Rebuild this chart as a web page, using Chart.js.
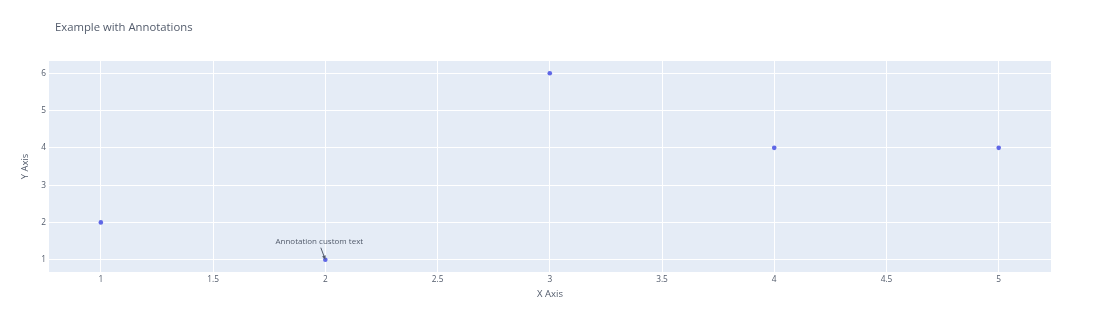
<!DOCTYPE html>
<html>
<head>
<meta charset="utf-8">
<script src="https://cdn.jsdelivr.net/npm/chart.js@4.4.1/dist/chart.umd.min.js"></script>
<style>
    html, body { margin: 0; padding: 0; background: #ffffff; }
    #wrap { width: 1100px; height: 322px; position: relative; }
</style>
</head>
<body>
<div id="wrap"><canvas id="annotChart" width="1100" height="322"></canvas></div>
<script>
// Data
const xValues = [1, 2, 3, 4, 5];
const yValues = [2, 1, 6, 4, 4];
const xTicks = [1, 1.5, 2, 2.5, 3, 3.5, 4, 4.5, 5];
const yTicks = [1, 2, 3, 4, 5, 6];
const xRange = [0.769, 5.233];
const yRange = [0.67, 6.33];

// Annotation attached to one data point
const annotationText = 'Annotation custom text';
const annotationIndex = 1;

const textColor = '#525b6b';
const fontFamily = '"Open Sans", verdana, arial, sans-serif';

/**
 * Plot background, title and annotation (Plotly look)
 */
const plotlyDecor = {
    id: 'plotlyDecor',
    beforeDraw(chart) {
        const { ctx, chartArea } = chart;
        ctx.save();
        ctx.fillStyle = '#E5ECF6';
        ctx.fillRect(chartArea.left, chartArea.top,
            chartArea.right - chartArea.left, chartArea.bottom - chartArea.top);
        ctx.restore();
    },
    afterDraw(chart) {
        const { ctx } = chart;
        ctx.save();

        // Title
        ctx.font = '11.3px ' + fontFamily;
        ctx.fillStyle = textColor;
        ctx.textAlign = 'left';
        ctx.textBaseline = 'middle';
        ctx.fillText('Example with Annotations', 55, 27.5);

        // Annotation with arrow
        const px = chart.scales.x.getPixelForValue(xValues[annotationIndex]);
        const py = chart.scales.y.getPixelForValue(yValues[annotationIndex]);
        const tx = px - 6;
        const ty = py - 18;
        ctx.font = '8px ' + fontFamily;
        ctx.textAlign = 'center';
        ctx.fillText(annotationText, tx, ty);

        const sx = tx + 1.5, sy = ty + 6;
        const angle = Math.atan2(py - sy, px - sx);
        ctx.strokeStyle = textColor;
        ctx.lineWidth = 1;
        ctx.beginPath();
        ctx.moveTo(sx, sy);
        ctx.lineTo(px - Math.cos(angle) * 3, py - Math.sin(angle) * 3);
        ctx.stroke();
        ctx.fillStyle = textColor;
        ctx.beginPath();
        ctx.moveTo(px, py);
        ctx.lineTo(px - 4.5 * Math.cos(angle - 0.45), py - 4.5 * Math.sin(angle - 0.45));
        ctx.lineTo(px - 4.5 * Math.cos(angle + 0.45), py - 4.5 * Math.sin(angle + 0.45));
        ctx.closePath();
        ctx.fill();

        ctx.restore();
    }
};

document.addEventListener('DOMContentLoaded', () => {
    const ctx = document.getElementById('annotChart');

    new Chart(ctx, {
        type: 'scatter',
        data: {
            datasets: [{
                data: xValues.map((x, i) => ({ x: x, y: yValues[i] })),
                backgroundColor: '#5f67e6',
                borderColor: '#5f67e6',
                borderWidth: 0,
                pointRadius: 2.3
            }]
        },
        options: {
            responsive: false,
            animation: false,
            layout: {
                padding: { left: 0, right: 49, top: 61, bottom: 0 }
            },
            plugins: {
                legend: { display: false },
                tooltip: { enabled: false }
            },
            scales: {
                x: {
                    type: 'linear',
                    min: xRange[0],
                    max: xRange[1],
                    afterBuildTicks: (scale) => { scale.ticks = xTicks.map(v => ({ value: v })); },
                    afterFit: (scale) => { scale.height = 50; },
                    grid: { color: '#ffffff', lineWidth: 1, drawTicks: false },
                    border: { display: false },
                    ticks: {
                        color: textColor,
                        font: { family: fontFamily, size: 8.3 },
                        padding: 3,
                        maxRotation: 0,
                        autoSkip: false,
                        callback: (v) => String(v)
                    },
                    title: {
                        display: true,
                        text: 'X Axis',
                        color: textColor,
                        font: { family: fontFamily, size: 9.5 },
                        padding: { top: 0, bottom: 22 }
                    }
                },
                y: {
                    type: 'linear',
                    min: yRange[0],
                    max: yRange[1],
                    afterBuildTicks: (scale) => { scale.ticks = yTicks.map(v => ({ value: v })); },
                    afterFit: (scale) => { scale.width = 49; },
                    grid: { color: '#ffffff', lineWidth: 1, drawTicks: false },
                    border: { display: false },
                    ticks: {
                        color: textColor,
                        font: { family: fontFamily, size: 8.3 },
                        padding: 3,
                        autoSkip: false,
                        callback: (v) => String(v)
                    },
                    title: {
                        display: true,
                        text: 'Y Axis',
                        color: textColor,
                        font: { family: fontFamily, size: 9.5 },
                        padding: { top: 20, bottom: 0 }
                    }
                }
            }
        },
        plugins: [plotlyDecor]
    });
});
</script>
</body>
</html>
